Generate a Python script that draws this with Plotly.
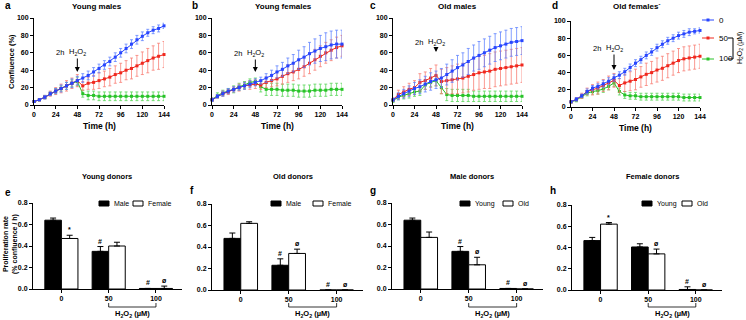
import plotly.graph_objects as go

# ---------------- data ----------------
TIME = list(range(0, 145, 6))
TIME_TICKS = [0, 24, 48, 72, 96, 120, 144]
CONF_TICKS = [0, 20, 40, 60, 80, 100]
DOSE_LABELS = ["0", "50", "100"]
TOP_TITLES = ["Young males", "Young females", "Old males", "Old females`"]
BOTTOM_TITLES = ["Young donors", "Old donors", "Male donors", "Female donors"]

# panel a - young males
A_0 = [4, 6, 9, 13, 16, 19, 22, 25, 28, 31, 34, 38, 42, 46, 50, 55, 60, 65, 70, 75, 79, 83, 86, 88, 91]
A_0_ERR = [1, 1, 2, 2, 3, 4, 4, 5, 5, 5, 5, 5, 5, 5, 5, 5, 5, 5, 5, 5, 5, 4, 4, 4, 3]
A_50 = [4, 6, 9, 13, 16, 19, 22, 25, 28, 22, 25, 26, 28, 30, 32, 35, 37, 40, 42, 45, 48, 51, 54, 56, 58]
A_50_ERR = [1, 1, 2, 3, 4, 5, 6, 6, 7, 5, 7, 8, 9, 9, 10, 10, 11, 11, 12, 12, 13, 14, 14, 15, 15]
A_100 = [4, 6, 9, 13, 16, 19, 22, 25, 27, 13, 11, 11, 10, 10, 10, 10, 10, 10, 10, 10, 10, 10, 10, 10, 10]
A_100_ERR = [1, 1, 2, 2, 3, 3, 4, 4, 5, 4, 5, 5, 5, 5, 5, 5, 5, 5, 5, 5, 5, 5, 5, 5, 5]

# panel b - young females
B_0 = [6, 10, 13, 16, 18, 20, 22, 24, 26, 28, 31, 34, 38, 41, 45, 48, 52, 55, 59, 62, 65, 67, 69, 70, 70]
B_0_ERR = [2, 2, 3, 3, 3, 3, 4, 4, 4, 4, 5, 6, 7, 8, 9, 10, 11, 12, 13, 14, 15, 16, 16, 16, 16]
B_50 = [6, 10, 13, 15, 18, 20, 22, 23, 24, 23, 26, 28, 30, 33, 36, 38, 41, 44, 48, 52, 56, 60, 63, 66, 68]
B_50_ERR = [2, 2, 3, 3, 3, 4, 4, 5, 5, 5, 6, 7, 8, 9, 10, 10, 11, 11, 12, 12, 12, 12, 12, 12, 12]
B_100 = [6, 11, 14, 16, 18, 21, 23, 26, 27, 21, 18, 18, 18, 17, 17, 17, 16, 16, 16, 17, 17, 17, 18, 18, 18]
B_100_ERR = [2, 3, 3, 3, 4, 4, 4, 4, 4, 6, 7, 7, 7, 7, 7, 7, 7, 7, 7, 7, 7, 7, 7, 7, 7]

# panel c - old males
C_0 = [6, 10, 13, 16, 19, 21, 24, 27, 29, 31, 35, 39, 43, 46, 50, 54, 57, 60, 63, 66, 68, 70, 72, 73, 74]
C_0_ERR = [2, 4, 5, 6, 7, 8, 9, 10, 10, 11, 12, 13, 14, 14, 15, 15, 16, 16, 16, 16, 16, 16, 16, 16, 16]
C_50 = [6, 12, 15, 18, 20, 26, 28, 31, 34, 27, 28, 29, 30, 31, 33, 35, 37, 38, 39, 41, 42, 43, 44, 45, 46]
C_50_ERR = [2, 5, 6, 7, 8, 10, 10, 11, 12, 14, 15, 16, 17, 17, 18, 18, 19, 19, 20, 20, 20, 20, 20, 20, 20]
C_100 = [5, 9, 11, 13, 15, 16, 23, 26, 28, 20, 12, 11, 11, 11, 11, 10, 10, 10, 10, 10, 10, 10, 10, 10, 10]
C_100_ERR = [2, 3, 4, 5, 5, 5, 5, 5, 6, 7, 7, 7, 7, 7, 7, 6, 6, 6, 6, 6, 6, 6, 6, 6, 6]

# panel d - old females
D_0 = [6, 9, 13, 18, 22, 24, 27, 30, 34, 37, 41, 46, 51, 55, 60, 64, 69, 73, 77, 80, 83, 85, 87, 88, 89]
D_0_ERR = [1, 2, 2, 3, 3, 3, 4, 4, 4, 4, 4, 4, 4, 4, 4, 4, 4, 4, 4, 4, 4, 4, 4, 3, 3]
D_50 = [6, 9, 13, 18, 20, 22, 25, 28, 31, 25, 28, 30, 32, 35, 38, 40, 43, 45, 48, 51, 54, 56, 57, 58, 59]
D_50_ERR = [1, 2, 3, 4, 6, 7, 7, 8, 8, 8, 10, 11, 12, 12, 13, 13, 14, 14, 14, 14, 14, 14, 14, 14, 14]
D_100 = [6, 8, 12, 16, 18, 19, 21, 24, 28, 18, 14, 13, 13, 12, 12, 12, 12, 12, 12, 12, 12, 11, 11, 11, 11]
D_100_ERR = [1, 2, 2, 3, 3, 4, 4, 4, 4, 4, 4, 4, 4, 4, 4, 4, 4, 4, 4, 4, 4, 4, 4, 4, 4]

H2O2_TIME = 48
ARROW_TIP = [38, 38, 61, 43]

# bar panels: proliferation rate
BAR_X = [0, 1, 2]
PRO_TICKS = [0.0, 0.2, 0.4, 0.6, 0.8]
E_GROUPS = ["Male", "Female"]
E_DARK = [0.64, 0.35, 0.005]
E_DARK_ERR = [0.02, 0.045, 0.0]
E_LIGHT = [0.47, 0.40, 0.005]
E_LIGHT_ERR = [0.03, 0.035, 0.022]
E_DARK_SIG = ["", "#", "#"]
E_LIGHT_SIG = ["*", "", "ø"]

F_GROUPS = ["Male", "Female"]
F_DARK = [0.48, 0.23, 0.0]
F_DARK_ERR = [0.05, 0.06, 0.0]
F_LIGHT = [0.62, 0.34, 0.0]
F_LIGHT_ERR = [0.015, 0.04, 0.0]
F_DARK_SIG = ["", "#", "#"]
F_LIGHT_SIG = ["", "ø", "ø"]

G_GROUPS = ["Young", "Old"]
G_DARK = [0.64, 0.35, 0.005]
G_DARK_ERR = [0.02, 0.045, 0.0]
G_LIGHT = [0.48, 0.225, 0.0]
G_LIGHT_ERR = [0.05, 0.07, 0.0]
G_DARK_SIG = ["", "#", "#"]
G_LIGHT_SIG = ["", "ø", "ø"]

H_GROUPS = ["Young", "Old"]
H_DARK = [0.465, 0.405, 0.005]
H_DARK_ERR = [0.03, 0.03, 0.025]
H_LIGHT = [0.62, 0.34, 0.0]
H_LIGHT_ERR = [0.015, 0.045, 0.0]
H_DARK_SIG = ["", "", "#"]
H_LIGHT_SIG = ["*", "ø", "ø"]

# ---------------- styling / layout ----------------
W, H = 746, 320
FONT = "Liberation Sans, Arial, sans-serif"
LINE_COL = ["rgb(40,70,255)", "rgb(240,40,30)", "rgb(40,195,40)"]
ERR_COL = ["rgba(90,125,255,0.75)", "rgba(248,120,110,0.75)", "rgba(90,215,90,0.8)"]


def px(x):
    return x / W


def py(y):
    return 1 - y / H


def ptext(text, x, y, size, bold=False, angle=0, xanchor="center"):
    return dict(text=text, x=px(x), y=py(y), xref="paper", yref="paper", showarrow=False,
                xanchor=xanchor, yanchor="middle", textangle=angle,
                font=dict(size=size, weight="bold" if bold else "normal"))


TOP_DOM = [((34, 164), (18, 105)), ((212, 342), (18, 105)),
           ((393, 522), (18, 105)), ((571, 700), (21, 107))]
BOT_DOM = [((33, 182), (203, 289)), ((212, 363), (204, 290)),
           ((392, 543), (203, 289)), ((572, 722), (205, 290))]

fig = go.Figure()
layout = dict(width=W, height=H, autosize=False, margin=dict(l=0, r=0, t=0, b=0, pad=0),
              plot_bgcolor="white", paper_bgcolor="white", showlegend=False,
              font=dict(family=FONT, size=7, color="black"), barmode="overlay")


def ax_common():
    return dict(showline=True, linecolor="black", linewidth=1, ticks="outside",
                ticklen=3, tickwidth=1, tickcolor="black", showgrid=False,
                zeroline=False, automargin=False,
                tickfont=dict(size=7, weight="bold", family=FONT))


annotations = []
shapes = []

top_data = [
    [(A_0, A_0_ERR), (A_50, A_50_ERR), (A_100, A_100_ERR)],
    [(B_0, B_0_ERR), (B_50, B_50_ERR), (B_100, B_100_ERR)],
    [(C_0, C_0_ERR), (C_50, C_50_ERR), (C_100, C_100_ERR)],
    [(D_0, D_0_ERR), (D_50, D_50_ERR), (D_100, D_100_ERR)],
]
letters_top = ["a", "b", "c", "d"]
letter_pos_top = [(8, 5), (195, 5), (373, 5), (555, 5)]
title_x_top = [97, 283, 457, 637]

for i, series in enumerate(top_data):
    n = i + 1
    xs = "" if n == 1 else str(n)
    (x0, x1), (y0, y1) = TOP_DOM[i]
    xa = ax_common()
    xa.update(domain=[px(x0), px(x1)], range=[0, 144], tickvals=TIME_TICKS,
              anchor="y" + xs)
    ya = ax_common()
    ya.update(domain=[py(y1), py(y0)], range=[0, 100], tickvals=CONF_TICKS,
              anchor="x" + xs)
    layout["xaxis" + xs] = xa
    layout["yaxis" + xs] = ya
    for k in [2, 1, 0]:
        mean, err = series[k]
        fig.add_trace(go.Scatter(
            x=TIME, y=mean, mode="lines+markers", name=DOSE_LABELS[k],
            line=dict(color=LINE_COL[k], width=1),
            marker=dict(symbol="square", size=3, color=LINE_COL[k]),
            error_y=dict(type="data", array=err, color=ERR_COL[k], thickness=1, width=1.5),
            cliponaxis=False, xaxis="x" + xs, yaxis="y" + xs))
    cx = (x0 + x1) / 2
    annotations.append(ptext(TOP_TITLES[i], title_x_top[i], 6, 8, bold=True))
    annotations.append(ptext("Time (h)", cx, y1 + 21, 8.5, bold=True))
    lx, ly = letter_pos_top[i]
    annotations.append(ptext(letters_top[i], lx, ly, 10, bold=True))
    tip = ARROW_TIP[i]
    tip_px = y1 - tip / 100 * (y1 - y0)
    text_px = [52, 53, 42, 48][i]
    ay = -(tip_px - text_px)
    annotations.append(dict(text="H<sub>2</sub>O<sub>2</sub>", x=H2O2_TIME, y=tip,
                            xref="x" + xs, yref="y" + xs, showarrow=True, ax=0, ay=ay,
                            arrowhead=2, arrowsize=1, arrowwidth=1, arrowcolor="black",
                            font=dict(size=7.5)))
    annotations.append(dict(text="2h", x=H2O2_TIME, y=tip, xref="x" + xs, yref="y" + xs,
                            showarrow=False, xshift=-17, yshift=-ay, xanchor="center",
                            yanchor="middle", font=dict(size=7.5)))

annotations.append(ptext("Confluence (%)", 12, 62, 7.5, bold=True, angle=-90))

# top legend
leg_y = [20, 38, 59]
for k in range(3):
    shapes.append(dict(type="line", xref="paper", yref="paper", x0=px(702), x1=px(714),
                       y0=py(leg_y[k]), y1=py(leg_y[k]), line=dict(color=LINE_COL[k], width=1)))
    shapes.append(dict(type="rect", xref="paper", yref="paper", x0=px(706.5), x1=px(709.5),
                       y0=py(leg_y[k] - 1.5), y1=py(leg_y[k] + 1.5),
                       fillcolor=LINE_COL[k], line=dict(width=0)))
    annotations.append(ptext(DOSE_LABELS[k], 717, leg_y[k], 8, xanchor="left"))
for (a, b, c, d) in [(728, 38, 733, 38), (733, 38, 733, 59), (728, 59, 733, 59)]:
    shapes.append(dict(type="line", xref="paper", yref="paper", x0=px(a), y0=py(b),
                       x1=px(c), y1=py(d), line=dict(color="black", width=1)))
annotations.append(ptext("H<sub>2</sub>O<sub>2</sub> (µM)", 740, 48, 7, angle=-90))

# ---------------- bar panels ----------------
bot_data = [
    (E_GROUPS, E_DARK, E_DARK_ERR, E_LIGHT, E_LIGHT_ERR, E_DARK_SIG, E_LIGHT_SIG),
    (F_GROUPS, F_DARK, F_DARK_ERR, F_LIGHT, F_LIGHT_ERR, F_DARK_SIG, F_LIGHT_SIG),
    (G_GROUPS, G_DARK, G_DARK_ERR, G_LIGHT, G_LIGHT_ERR, G_DARK_SIG, G_LIGHT_SIG),
    (H_GROUPS, H_DARK, H_DARK_ERR, H_LIGHT, H_LIGHT_ERR, H_DARK_SIG, H_LIGHT_SIG),
]
letters_bot = ["e", "f", "g", "h"]
letter_pos_bot = [(8, 192), (192, 190), (373, 190), (553, 190)]
title_x_bot = [107, 293, 472, 652]
legend_x_bot = [(99, 133), (271, 313), (460, 503), (642, 682)]
BW = 0.35
XR = [-0.6, 2.55]

for i, (groups, dv, de, lv, le, ds, ls) in enumerate(bot_data):
    n = i + 5
    xs = str(n)
    (x0, x1), (y0, y1) = BOT_DOM[i]
    xa = ax_common()
    xa.update(domain=[px(x0), px(x1)], range=XR, tickvals=BAR_X, ticktext=DOSE_LABELS,
              anchor="y" + xs)
    ya = ax_common()
    ya.update(domain=[py(y1), py(y0)], range=[0, 0.8], tickvals=PRO_TICKS,
              tickformat=".1f", anchor="x" + xs)
    layout["xaxis" + xs] = xa
    layout["yaxis" + xs] = ya
    fig.add_trace(go.Bar(x=BAR_X, y=dv, width=BW, offset=-BW, name=groups[0],
                         marker=dict(color="black", line=dict(color="black", width=1)),
                         error_y=dict(type="data", array=de, arrayminus=[0] * 3, symmetric=False,
                                      color="black", thickness=1, width=3),
                         xaxis="x" + xs, yaxis="y" + xs))
    fig.add_trace(go.Bar(x=BAR_X, y=lv, width=BW, offset=0, name=groups[1],
                         marker=dict(color="white", line=dict(color="black", width=1)),
                         error_y=dict(type="data", array=le, arrayminus=[0] * 3, symmetric=False,
                                      color="black", thickness=1, width=3),
                         xaxis="x" + xs, yaxis="y" + xs))
    for j in range(3):
        if ds[j]:
            annotations.append(dict(text=ds[j], x=BAR_X[j] - BW / 2, y=dv[j] + de[j],
                                    xref="x" + xs, yref="y" + xs, yanchor="bottom",
                                    xanchor="center", showarrow=False,
                                    font=dict(size=7, weight="bold")))
        if ls[j]:
            annotations.append(dict(text=ls[j], x=BAR_X[j] + BW / 2, y=lv[j] + le[j],
                                    xref="x" + xs, yref="y" + xs, yanchor="bottom",
                                    xanchor="center", showarrow=False,
                                    font=dict(size=7, weight="bold")))
    for (a, b, c, d) in [(1, 303, 1, 307), (1, 307, 2, 307), (2, 307, 2, 303)]:
        shapes.append(dict(type="line", xref="x" + xs, yref="paper", x0=a, x1=c,
                           y0=py(b), y1=py(d), line=dict(color="black", width=0.8)))
    annotations.append(dict(text="H<sub>2</sub>O<sub>2</sub> (µM)", x=1.5, y=py(314),
                            xref="x" + xs, yref="paper", showarrow=False,
                            xanchor="center", yanchor="middle",
                            font=dict(size=7.5, weight="bold")))
    annotations.append(ptext(BOTTOM_TITLES[i], title_x_bot[i], 176, 7.5, bold=True))
    lx, ly = letter_pos_bot[i]
    annotations.append(ptext(letters_bot[i], lx, ly, 10, bold=True))
    bx, wx = legend_x_bot[i]
    shapes.append(dict(type="rect", xref="paper", yref="paper", x0=px(bx), x1=px(bx + 10),
                       y0=py(206), y1=py(201), fillcolor="black", line=dict(color="black", width=1)))
    annotations.append(ptext(groups[0], bx + 13, 203.5, 7, xanchor="left"))
    shapes.append(dict(type="rect", xref="paper", yref="paper", x0=px(wx), x1=px(wx + 10),
                       y0=py(206), y1=py(201), fillcolor="white", line=dict(color="black", width=1)))
    annotations.append(ptext(groups[1], wx + 13, 203.5, 7, xanchor="left"))

annotations.append(ptext("Proliferation rate<br>(% confluence / h)", 10, 244, 7, bold=True, angle=-90))

layout["annotations"] = annotations
layout["shapes"] = shapes
fig.update_layout(**layout)
fig.write_html("out.html", config={"responsive": False, "displayModeBar": False},
               post_script="document.body.style.margin='0px';document.body.style.padding='0px';")
